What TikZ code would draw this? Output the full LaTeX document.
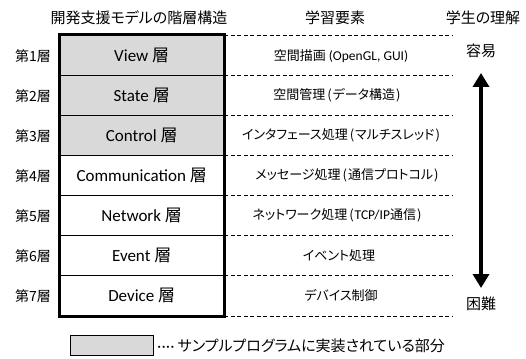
\documentclass[tikz,border=0pt]{standalone}
\usepackage{fontspec}
\setmainfont{Carlito}
\newfontfamily\jp[RawFeature=+palt]{Noto Sans CJK JP}
\usetikzlibrary{arrows.meta}
\definecolor{layergray}{HTML}{D9D9D9}
\newcommand{\lp}{\kern2pt(\kern1pt}
\newcommand{\rp}{\kern1pt)}
\begin{document}
\begin{tikzpicture}[x=1pt,y=-1pt,
  layer/.style={draw=black, line width=1.4pt, minimum width=164pt, minimum height=40pt, inner sep=0pt, font=\fontsize{17}{20}\selectfont, anchor=north west},
  impl/.style={layer, fill=layergray},
  lbl/.style={font=\jp\fontsize{14}{16}\selectfont, inner sep=0pt},
  elem/.style={font=\fontsize{13.5}{16}\selectfont, inner sep=0pt},
  jel/.style={font=\jp\fontsize{13}{16}\selectfont, inner sep=0pt},
  head/.style={font=\jp\fontsize{15}{18}\selectfont, inner sep=0pt},
  sep/.style={dash pattern=on 4pt off 2.5pt, line width=0.8pt},
  bigarrow/.style={line width=4pt, {Triangle[length=14pt,width=16pt]}-{Triangle[length=14pt,width=16pt]}},
]
\useasboundingbox (0,0) rectangle (526,358);
% headers
\node[head] (h1) at (139,18) {開発支援モデルの階層構造};
\node[head] (h2) at (335,18) {学習要素};
\node[head] (h3) at (483,18) {学生の理解};
% layers
\node[impl] (r1) at (59,35) {View {\jp 層}};
\node[impl] (r2) at (59,75) {State {\jp 層}};
\node[impl] (r3) at (59,115) {Control {\jp 層}};
\node[layer] (r4) at (59,155) {Communication {\jp 層}};
\node[layer] (r5) at (59,195) {Network {\jp 層}};
\node[layer] (r6) at (59,235) {Event {\jp 層}};
\node[layer] (r7) at (59,275) {Device {\jp 層}};
\draw[line width=3pt] (r1.north west) rectangle (r7.south east);
% layer numbers
\coordinate (lblx) at (33,0);
\foreach \i in {1,...,7}{
  \node[lbl] (n\i) at (r\i.west -| lblx) {第\i 層};
}
% dashed separators
\coordinate (dashend) at (453,0);
\foreach \i in {1,...,7}{
  \draw[sep] (r\i.north east) -- (r\i.north east -| dashend);
}
\draw[sep] (r7.south east) -- (r7.south east -| dashend);
% learning elements
\coordinate (ex) at (341,0);
\node[elem] (e1) at (r1.east -| ex) {{\jp\fontsize{13}{16}\selectfont 空間描画} (OpenGL, GUI)};
\node[jel] (e2) at ([xshift=-4pt]r2.east -| ex) {空間管理\lp データ構造\rp};
\node[jel] (e3) at (r3.east -| ex) {インタフェース処理\lp マルチスレッド\rp};
\node[jel] (e4) at ([xshift=6pt]r4.east -| ex) {メッセージ処理\lp 通信プロトコル\rp};
\node[elem] (e5) at ([xshift=-4pt]r5.east -| ex) {{\jp\fontsize{13}{16}\selectfont ネットワーク処理\lp}TCP/IP{\jp\fontsize{13}{16}\selectfont 通信\rp}};
\node[jel] (e6) at ([xshift=-2pt]r6.east -| ex) {イベント処理};
\node[jel] (e7) at (r7.east -| ex) {デバイス制御};
% understanding arrow
\node[head] (easy) at (481,51) {容易};
\node[head] (hard) at (481,304) {困難};
\coordinate (atop) at (481,73);
\coordinate (abot) at (481,288);
\draw[bigarrow] (atop) -- (abot);
% legend
\node[draw, line width=1.2pt, fill=layergray, minimum width=83pt, minimum height=20pt, inner sep=0pt, anchor=north west] (leg) at (70,335) {};
\node[anchor=west, inner sep=0pt, font=\fontsize{15}{17}\selectfont] (legtext) at ([xshift=3pt]leg.east) {·\kern0.6pt·\kern0.6pt·\kern0.6pt· {\jp サンプルプログラムに実装されている部分}};
\end{tikzpicture}
\end{document}
